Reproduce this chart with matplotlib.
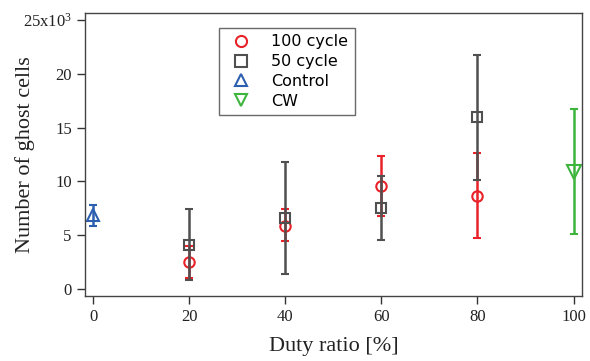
import numpy as np
import matplotlib.pyplot as plt

plt.rcParams['font.family'] = ['Liberation Serif', 'DejaVu Serif']
plt.rcParams['mathtext.fontset'] = 'custom'
plt.rcParams['mathtext.rm'] = 'Liberation Serif'
plt.rcParams['mathtext.default'] = 'regular'

# values in units of 10^3 cells
duty = [20, 40, 60, 80]
cyc100 = [2.5, 5.85, 9.55, 8.65]
cyc100_lo = [1.5, 1.4, 2.75, 3.9]
cyc100_hi = [1.5, 1.55, 2.8, 3.95]
cyc50 = [4.1, 6.6, 7.5, 16.0]
cyc50_lo = [3.25, 5.2, 2.95, 5.9]
cyc50_hi = [3.35, 5.2, 3.0, 5.75]
ctrl_x, ctrl_y, ctrl_lo, ctrl_hi = [0], [6.85], [1.0], [1.0]
cw_x, cw_y, cw_lo, cw_hi = [100], [10.9], [5.8], [5.8]

xticks = [0, 20, 40, 60, 80, 100]
yticks = [0, 5, 10, 15, 20, 25]
ylabels = ['0', '5', '10', '15', '20', '25x10$^3$']

red = '#e82228'
gray = '#505050'
blue = '#2d5fb0'
green = '#3db43c'

fig = plt.figure(figsize=(5.9, 3.61), dpi=100)
ax = fig.add_axes([0.144, 0.18, 0.842, 0.784])

kw = dict(linestyle='none', markerfacecolor='none',
          markeredgewidth=1.5, elinewidth=1.8, capsize=2.8, capthick=1.8)
ax.errorbar(duty, cyc50, yerr=[cyc50_lo, cyc50_hi], marker='s', color=gray,
            markersize=7.5, label='50 cycle', zorder=3, **kw)
ax.errorbar(duty, cyc100, yerr=[cyc100_lo, cyc100_hi], marker='o', color=red,
            markersize=7.5, label='100 cycle', zorder=2, **kw)
ax.errorbar(ctrl_x, ctrl_y, yerr=[ctrl_lo, ctrl_hi], marker='^', color=blue,
            markersize=9, label='Control', **kw)
ax.errorbar(cw_x, cw_y, yerr=[cw_lo, cw_hi], marker='v', color=green,
            markersize=10, label='CW', **kw)

ax.set_xlim(-1.7, 101.7)
ax.set_ylim(-0.65, 25.65)
ax.set_xticks(xticks)
ax.set_yticks(yticks)
ax.set_yticklabels(ylabels)
ax.tick_params(direction='out', length=6, width=1, colors='#333333',
               labelsize=12, labelcolor='#222222')
for s in ax.spines.values():
    s.set_color('#444444')
    s.set_linewidth(1.0)

ax.set_xlabel('Duty ratio [%]', fontsize=16, color='#222222')
ax.set_ylabel('Number of ghost cells', fontsize=16, color='#222222')
ax.xaxis.set_label_coords(0.5, -0.145)
ax.yaxis.set_label_coords(-0.1, 0.5)

handles, labels = ax.get_legend_handles_labels()
order = [1, 0, 2, 3]
h2 = []
for i in order:
    ln = handles[i][0]
    h2.append(plt.Line2D([], [], linestyle='none', marker=ln.get_marker(),
                         markersize=8, markerfacecolor='none',
                         markeredgewidth=1.5, color=ln.get_color()))
leg = ax.legend(h2, [labels[i] for i in order], loc='upper left',
                bbox_to_anchor=(0.269, 0.947), frameon=True, fancybox=False,
                edgecolor='#444444', handletextpad=0.9, borderaxespad=0,
                labelspacing=0.3, borderpad=0.4, handlelength=2.0,
                prop={'family': 'DejaVu Sans', 'size': 11.5})
leg.get_frame().set_linewidth(1.0)

fig.savefig('out.png', dpi=100)
